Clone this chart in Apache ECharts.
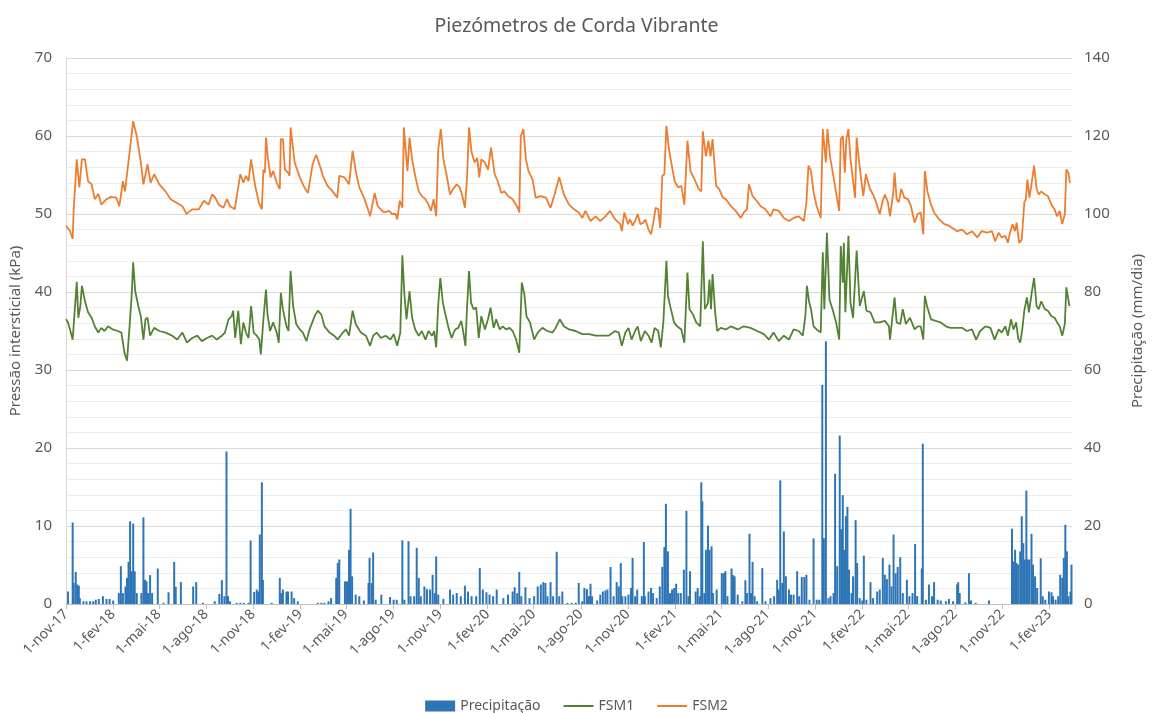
<!DOCTYPE html>
<html>
<head>
<meta charset="utf-8">
<script src="https://cdn.jsdelivr.net/npm/echarts@6/dist/echarts.min.js"></script>
<style>
html,body{margin:0;padding:0;background:#fff}
#chart{width:1153px;height:713px}
</style>
</head>
<body>
<div id="chart"></div>
<script>
// eixo x: dias contados a partir de 1-nov-17
var startDate = Date.parse('2017-11-01');
var lastDay = 1962;

var tickDates = ['2017-11-01','2018-02-01','2018-05-01','2018-08-01','2018-11-01','2019-02-01','2019-05-01','2019-08-01',
	'2019-11-01','2020-02-01','2020-05-01','2020-08-01','2020-11-01','2021-02-01','2021-05-01','2021-08-01',
	'2021-11-01','2022-02-01','2022-05-01','2022-08-01','2022-11-01','2023-02-01'];
var tickLabels = ['1-nov-17','1-fev-18','1-mai-18','1-ago-18','1-nov-18','1-fev-19','1-mai-19','1-ago-19',
	'1-nov-19','1-fev-20','1-mai-20','1-ago-20','1-nov-20','1-fev-21','1-mai-21','1-ago-21',
	'1-nov-21','1-fev-22','1-mai-22','1-ago-22','1-nov-22','1-fev-23'];

// Precipitação (mm/dia)
var rainDay = [4,13,15,19,22,25,27,34,40,47,53,58,64,72,79,85,92,103,107,111,116,119,122,125,128,131,134,138,147,151,154,157,160,164,168,179,190,200,211,214,224,248,254,267,290,299,304,309,313,316,320,333,340,347,356,
	360,367,372,375,378,382,384,401,417,420,423,430,433,440,445,452,491,498,504,512,517,527,530,533,544,548,552,555,558,565,572,581,590,592,596,599,604,615,632,639,645,
	656,660,668,672,679,684,688,692,699,704,710,715,719,722,726,736,749,755,762,770,778,784,791,800,807,813,820,826,833,840,853,862,871,875,880,884,888,896,904,913,920,926,931,935,939,945,950,957,962,968,
	978,986,994,1000,1007,1011,1016,1020,1023,1026,1036,1042,1047,1052,1056,1062,1068,1074,1078,1082,1085,1091,1097,1102,1105,1110,1114,1123,1127,1129,1136,1141,1145,1152,1158,1163,1167,1170,1174,1178,1182,1186,1190,1194,1199,
	1205,1210,1214,1217,1228,1232,1236,1239,1241,1245,1248,1252,1255,1259,1262,1269,1279,1283,1286,1290,1298,1301,1304,1310,1319,1325,1328,1333,1336,1339,1343,1348,1358,1364,1374,1381,1387,1390,1393,1397,1400,1404,1410,1414,1419,1426,1430,1435,1440,1444,1450,
	1458,1464,1469,1475,1478,1482,1487,1491,1497,1500,1504,1509,1512,1515,1518,1521,1524,1527,1532,1535,1540,1543,1548,1553,1556,1561,1569,1574,1582,1587,1593,1597,1601,1606,1610,1614,1618,1622,1627,1632,1640,1645,1651,1656,1660,1669,1671,1677,1683,1689,1693,1700,1706,1716,1722,1730,1738,1740,1743,1754,1761,1765,1774,1800,
	1845,1848,1851,1854,1857,1861,1864,1867,1870,1873,1876,1879,1883,1886,1890,1894,1901,1905,1910,1917,1922,1925,1930,1935,1939,1943,1946,1949,1952,1955,1959,1961];
var rainMm = [3.2,20.9,5.4,8.2,5.0,4.7,1.5,0.7,0.7,0.7,0.7,1.1,1.3,2.0,1.3,1.3,0.9,2.8,9.7,2.8,4.5,6.7,10.8,21.2,8.4,20.6,8.4,2.8,2.8,22.2,6.2,5.8,2.8,7.4,2.8,9.1,0.3,3.0,10.8,4.4,5.6,4.5,5.6,0.3,0.7,2.6,6.1,2.0,39.1,2.0,0.7,0.3,0.3,0.3,0.3,
	16.3,3.1,3.7,3.2,17.8,31.2,6.2,0.3,6.7,2.8,3.7,3.2,3.2,3.2,1.5,0.7,0.3,0.3,0.3,0.7,1.5,6.7,10.5,11.4,5.8,5.8,13.9,24.4,7.1,2.4,2.0,0.9,5.4,11.8,5.4,13.2,1.1,2.4,1.8,1.1,1.1,
	16.3,1.1,16.1,2.0,2.0,14.4,6.7,2.0,4.5,3.8,3.7,7.5,2.8,12.2,2.4,1.3,3.7,2.4,2.8,2.0,4.7,3.2,2.0,2.0,9.2,3.7,3.0,2.4,2.0,3.7,1.5,2.4,3.2,4.3,2.8,8.2,2.0,4.3,1.5,2.0,4.5,5.0,5.6,5.4,2.0,5.6,2.0,13.4,2.0,3.2,
	0.3,0.3,0.3,5.4,0.7,4.1,3.8,2.0,5.2,2.0,0.9,2.4,3.2,3.5,3.7,9.5,2.0,5.6,4.5,10.5,2.0,2.0,2.4,4.1,11.8,2.0,3.7,2.0,15.9,2.0,3.2,4.1,2.8,1.5,4.5,9.5,14.6,25.7,13.5,2.8,3.7,4.1,5.2,2.8,2.8,
	8.8,23.9,2.0,8.4,3.2,4.1,2.0,31.2,26.3,2.8,13.9,20.1,13.9,14.8,2.8,3.7,7.9,7.9,8.4,2.0,9.1,7.4,7.1,2.4,0.7,6.1,2.8,18.0,2.8,10.8,2.0,0.7,9.2,0.7,1.5,2.0,6.2,3.7,31.7,5.4,18.6,7.1,3.7,2.4,2.4,8.4,2.0,6.9,6.9,7.5,1.1,
	16.8,1.1,1.1,56.2,16.9,67.4,1.5,2.0,2.8,33.4,9.7,43.2,19.2,27.9,13.9,22.5,24.9,8.8,2.8,7.1,21.5,10.5,1.5,0.9,12.4,1.1,5.6,1.5,3.2,3.7,11.8,7.5,6.4,10.1,4.5,17.8,7.9,9.5,12.0,2.8,6.2,2.0,2.8,15.4,2.0,9.1,41.1,1.1,5.0,2.0,5.6,1.1,0.9,0.7,1.3,0.7,5.0,5.6,2.8,0.4,7.9,0.9,0.3,0.9,
	19.3,10.9,13.9,10.5,10.1,13.5,22.5,15.6,11.4,29.1,11.4,11.4,18.0,10.1,7.1,4.1,11.7,2.0,1.1,3.2,3.0,2.0,1.1,2.0,7.5,6.7,11.8,20.3,13.5,2.0,3.2,10.1];

// FSM1 (kPa)
var fsm1Day = [0,4,13,17,21,24,28,31,37,43,50,56,63,69,75,82,91,101,108,114,119,124,128,131,135,141,146,151,155,159,164,172,182,194,207,217,227,236,246,256,265,275,285,294,304,310,317,323,326,330,336,341,346,351,
	356,361,366,372,377,380,385,390,393,398,404,411,415,419,423,430,434,438,443,449,456,462,469,475,485,491,498,504,514,523,530,540,546,552,559,565,575,585,593,599,606,614,623,633,639,646,652,656,660,664,670,675,681,688,694,701,707,714,718,722,
	726,730,735,739,746,752,759,765,771,775,779,782,786,790,795,800,805,810,817,823,828,834,839,846,852,858,865,871,878,884,889,894,898,905,913,920,929,939,949,955,963,971,981,994,1007,1020,1033,1045,1058,1071,1078,1084,1091,
	1097,1103,1110,1115,1121,1129,1136,1142,1148,1155,1160,1165,1171,1174,1179,1186,1192,1200,1206,1212,1216,1223,1229,1237,1242,1246,1252,1255,1258,1261,1266,1270,1277,1287,1297,1310,1322,1335,1348,1361,1371,1380,1390,1400,1410,1419,1429,1437,1442,1445,1449,1453,1458,
	1464,1472,1476,1479,1484,1489,1495,1502,1508,1511,1515,1517,1520,1526,1530,1535,1542,1548,1556,1561,1569,1577,1587,1597,1605,1607,1611,1616,1620,1627,1632,1638,1646,1655,1661,1667,1672,1675,1680,1687,1696,1706,1716,1725,
	1738,1748,1757,1767,1775,1783,1793,1803,1811,1819,1825,1832,1837,1843,1848,1853,1857,1861,1865,1869,1874,1878,1883,1888,1893,1897,1902,1909,1915,1922,1928,1933,1938,1943,1948,1951,1957];
var fsm1Val = [36.5,36.1,33.9,37.6,41.3,36.7,38.2,40.8,38.8,37.4,36.7,35.6,34.8,35.4,35.0,35.6,35.2,35.0,34.8,32.2,31.2,35.6,39.5,43.8,40.1,38.2,36.9,33.9,36.5,36.7,34.4,35.4,35.0,34.8,34.4,33.9,34.8,33.5,34.1,34.4,33.7,34.1,34.4,33.9,34.4,34.8,36.5,36.9,37.6,34.1,37.6,33.3,36.1,34.8,
	34.1,38.2,34.8,34.4,33.9,32.0,36.5,40.3,37.1,35.0,36.1,34.8,33.5,39.9,37.8,35.6,35.0,42.7,38.2,35.9,35.2,34.8,33.7,35.2,36.9,37.6,37.1,35.6,34.8,34.4,33.9,34.8,35.2,34.4,37.6,35.9,34.8,34.4,33.1,34.4,34.8,34.1,34.4,33.9,34.6,33.1,34.8,44.7,39.7,36.5,40.1,36.7,35.2,34.4,35.0,33.9,35.0,34.4,35.0,32.9,
	38.4,41.8,38.6,37.4,35.4,34.1,35.2,35.4,36.3,34.8,33.1,37.8,42.7,38.6,37.8,38.0,34.1,36.9,35.2,36.5,38.0,35.4,36.5,35.2,35.6,35.2,35.4,35.0,33.9,32.2,41.2,39.7,36.9,36.1,33.9,34.8,35.4,35.0,34.8,35.4,36.5,35.6,35.2,35.0,34.6,34.6,34.4,34.4,34.4,35.0,34.8,33.1,34.8,
	35.4,33.9,35.0,35.6,33.7,35.0,34.4,33.5,35.4,35.0,32.9,36.1,44.0,39.5,38.0,36.1,35.6,35.2,33.5,42.5,37.8,37.1,36.1,35.6,46.5,37.8,38.6,41.6,37.8,42.3,37.4,35.0,35.4,35.2,35.6,35.2,35.6,35.4,35.0,34.6,33.9,34.8,33.7,34.4,33.9,35.2,35.0,34.4,36.9,40.8,38.8,37.8,35.6,
	35.2,34.8,45.1,37.8,47.6,39.0,37.8,36.1,33.9,45.9,41.2,46.3,37.4,47.2,38.6,36.7,45.3,38.2,40.1,37.6,37.4,36.1,36.1,36.3,35.6,33.9,36.3,39.3,36.1,35.9,37.8,35.9,36.7,35.2,35.6,35.6,33.9,39.5,38.0,36.5,36.3,36.1,35.6,35.4,
	35.4,35.4,35.0,35.2,33.9,35.0,35.6,35.4,33.9,35.2,34.8,35.6,34.4,36.5,35.2,36.1,34.1,33.5,35.2,37.6,39.3,37.4,39.7,41.8,38.2,37.8,38.8,37.8,37.6,36.9,36.7,36.1,35.6,34.4,35.9,40.6,38.2];

// FSM2 (kPa)
var fsm2Day = [0,8,13,15,21,26,31,37,43,50,56,63,69,79,88,98,104,111,115,124,131,138,146,151,159,165,172,182,194,204,214,227,235,246,259,269,278,285,291,298,307,314,320,329,340,346,351,
	356,361,369,376,382,385,388,390,394,399,404,411,417,419,423,427,433,436,438,446,456,465,472,481,488,494,501,510,520,529,533,543,548,552,559,565,572,581,588,593,597,602,608,614,620,630,636,643,646,651,656,659,664,666,670,675,681,688,694,701,707,712,717,722,
	726,731,736,742,749,755,762,768,773,778,782,786,791,797,802,806,810,817,823,829,836,842,849,855,862,871,881,884,887,892,897,902,910,916,926,936,945,952,962,971,981,991,1000,1007,1013,1023,1033,1042,1052,1061,1071,1081,1084,1089,
	1096,1100,1105,1110,1115,1120,1126,1130,1136,1141,1145,1150,1155,1159,1163,1167,1171,1176,1181,1187,1194,1200,1206,1212,1218,1226,1234,1239,1242,1248,1253,1257,1261,1268,1274,1281,1287,1297,1306,1316,1322,1328,1332,1339,1347,1355,1364,1374,1380,1390,1400,1410,1419,1429,1439,1444,1448,1453,1458,
	1464,1472,1476,1479,1482,1485,1490,1497,1503,1508,1511,1515,1519,1522,1526,1530,1535,1539,1542,1548,1555,1560,1568,1574,1580,1587,1593,1597,1603,1607,1613,1616,1620,1624,1629,1635,1642,1648,1655,1661,1667,1672,1675,1680,1687,1693,1703,1713,1722,
	1738,1748,1757,1767,1777,1786,1796,1806,1812,1819,1825,1832,1837,1841,1846,1851,1854,1859,1864,1869,1872,1875,1879,1883,1888,1893,1897,1902,1909,1915,1922,1928,1933,1938,1943,1948,1951,1955,1958];
var fsm2Val = [48.5,47.8,46.8,50.6,57.0,53.4,57.0,57.0,54.2,53.8,51.9,52.6,51.2,51.9,52.2,52.1,51.0,54.2,52.9,57.9,61.9,60.0,56.6,53.8,56.4,54.0,55.1,53.8,52.9,51.9,51.5,51.0,50.0,50.6,50.6,51.7,51.2,52.5,52.1,51.2,50.8,51.9,51.0,50.6,55.1,54.0,54.9,
	54.2,57.0,53.6,51.5,50.6,55.7,55.3,59.8,57.0,54.7,55.5,54.0,53.2,59.6,59.6,55.7,55.3,54.9,61.1,56.6,54.7,53.4,52.7,56.4,57.6,56.4,54.9,53.6,52.9,52.1,54.9,54.7,54.2,53.8,58.1,55.5,53.4,52.1,50.8,49.7,51.0,52.7,51.0,50.6,50.2,50.4,50.0,50.0,49.3,51.7,50.8,61.1,57.0,55.5,59.8,57.0,54.9,52.9,52.3,51.9,51.2,50.4,51.9,49.7,
	58.3,60.9,57.0,55.1,52.5,53.2,53.8,53.4,52.3,50.8,54.4,61.1,57.9,56.6,57.2,54.7,57.0,56.6,55.7,58.5,55.1,54.2,52.7,52.9,52.3,51.9,50.8,50.2,60.0,60.9,57.0,55.5,54.4,52.1,52.3,52.1,50.8,52.3,54.7,52.5,51.2,50.6,50.2,49.5,50.4,49.1,49.7,49.1,49.7,50.4,49.3,48.7,47.8,50.2,
	48.7,49.3,48.5,49.1,50.0,48.7,48.9,49.3,48.0,47.4,48.7,50.8,50.6,48.2,54.9,55.1,61.3,58.3,56.4,54.2,53.4,53.6,51.2,59.4,55.5,54.4,53.2,52.9,60.6,57.4,59.4,57.4,59.6,53.6,53.2,52.1,51.9,51.0,50.4,49.5,50.2,50.6,53.8,52.3,51.7,51.0,50.6,49.7,50.6,50.4,49.5,49.1,49.5,49.7,49.1,51.5,56.2,55.5,52.8,
	51.0,49.5,60.9,60.9,56.6,60.9,57.4,54.7,52.3,50.4,59.6,60.0,55.3,59.6,60.9,57.0,54.2,52.1,59.8,55.9,52.3,55.1,53.2,52.5,51.5,50.0,51.7,52.5,51.5,49.7,52.5,55.3,51.9,51.5,53.2,52.1,51.9,51.0,48.9,50.0,50.2,47.4,55.5,52.9,51.2,50.2,49.3,48.7,48.5,
	47.8,48.0,47.4,47.8,47.0,47.8,47.6,47.8,46.5,47.6,47.0,47.2,46.3,47.6,48.7,47.8,48.9,46.3,46.7,51.5,51.9,54.4,52.1,53.8,56.2,53.2,52.5,52.9,52.5,52.3,51.2,50.6,49.7,50.4,48.7,50.0,55.7,55.3,54.0];

function zip(days, vals) {
	return days.map(function (d, i) { return [d, vals[i]]; });
}
var tickDays = tickDates.map(function (s) { return Math.round((Date.parse(s) - startDate) / 86400000); });

var txt = '#595959';
var font = "'Noto Sans', 'Open Sans', sans-serif";
var chart = echarts.init(document.getElementById('chart'));
chart.setOption({
	animation: false,
	textStyle: { fontFamily: font, color: txt },
	title: {
		text: 'Piezómetros de Corda Vibrante', left: 'center', top: 11,
		textStyle: { fontFamily: font, fontSize: 19.5, fontWeight: 'normal', color: txt }
	},
	legend: {
		top: 694, left: 'center', itemWidth: 30, itemHeight: 11, itemGap: 22,
		textStyle: { fontFamily: font, fontSize: 14, color: txt },
		data: [
			{ name: 'Precipitação', icon: 'rect' },
			{ name: 'FSM1', itemStyle: { opacity: 0 }, lineStyle: { width: 2 } },
			{ name: 'FSM2', itemStyle: { opacity: 0 }, lineStyle: { width: 2 } }
		]
	},
	grid: { left: 66, right: 72, top: 58, bottom: 109 },
	xAxis: {
		type: 'value', min: 0, max: lastDay,
		axisLine: { lineStyle: { color: '#bfbfbf' } },
		axisTick: { show: true, length: 5, customValues: tickDays, lineStyle: { color: '#bfbfbf' } },
		axisLabel: {
			customValues: tickDays, rotate: 45, margin: 8, fontSize: 14, color: txt, fontFamily: font,
			formatter: function (v) {
				var i = tickDays.indexOf(Math.round(v));
				return i >= 0 ? tickLabels[i] : '';
			}
		},
		splitLine: { show: false }
	},
	yAxis: [{
		type: 'value', min: 0, max: 70, interval: 10,
		name: 'Pressão intersticial (kPa)', nameLocation: 'middle', nameGap: 43,
		nameTextStyle: { fontFamily: font, fontSize: 15, color: txt },
		axisLine: { show: true, lineStyle: { color: '#d9d9d9' } },
		axisTick: { show: false },
		axisLabel: { fontSize: 15, color: txt, margin: 14 },
		splitLine: { lineStyle: { color: '#d9d9d9', width: 1.2 } },
		minorTick: { show: false, splitNumber: 5 },
		minorSplitLine: { show: true, lineStyle: { color: '#ececec', width: 1 } }
	}, {
		type: 'value', min: 0, max: 140, interval: 20,
		name: 'Precipitação (mm/dia)', nameLocation: 'middle', nameGap: 58, nameRotate: 90,
		nameTextStyle: { fontFamily: font, fontSize: 15, color: txt },
		axisLine: { show: false },
		axisTick: { show: false },
		axisLabel: { fontSize: 15, color: txt, margin: 12 },
		splitLine: { show: false }
	}],
	series: [{
		name: 'Precipitação', type: 'bar', yAxisIndex: 1, barWidth: 2,
		itemStyle: { color: '#2e75b6' },
		data: zip(rainDay, rainMm)
	}, {
		name: 'FSM1', type: 'line', yAxisIndex: 0, symbol: 'none',
		lineStyle: { color: '#548235', width: 1.8 }, itemStyle: { color: '#548235' },
		data: zip(fsm1Day, fsm1Val)
	}, {
		name: 'FSM2', type: 'line', yAxisIndex: 0, symbol: 'none',
		lineStyle: { color: '#ed7d31', width: 1.8 }, itemStyle: { color: '#ed7d31' },
		data: zip(fsm2Day, fsm2Val)
	}]
});
</script>
</body>
</html>
